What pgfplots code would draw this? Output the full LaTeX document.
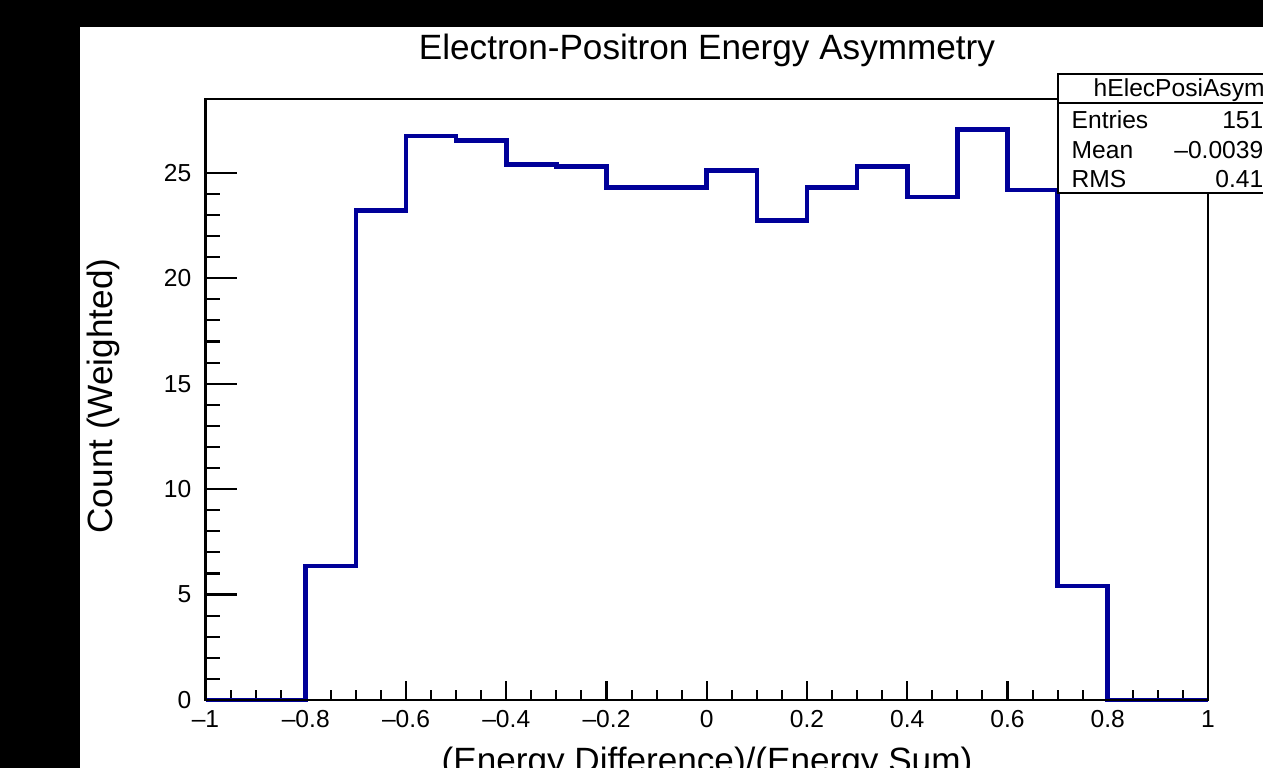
\documentclass[border=0pt]{standalone}
\usepackage{fontspec}
\setmainfont{Liberation Sans}
\usepackage{pgfplots}
\pgfplotsset{compat=1.18}
\definecolor{rootblue}{RGB}{0,0,153}

\begin{document}
\begin{tikzpicture}
\useasboundingbox (0,0) rectangle (126.3mm,76.8mm);
\clip (0,0) rectangle (126.3mm,76.8mm);
\fill[black] (0,0) rectangle (126.3mm,76.8mm);
\fill[white] (8mm,0) rectangle (126.3mm,74.1mm);

% histogram + x ticks
\begin{axis}[
  at={(20.55mm,6.8mm)}, anchor=south west,
  scale only axis, width=100.25mm, height=60.1mm,
  xmin=-1, xmax=1, ymin=0, ymax=28.5,
  xtick={-1,-0.8,-0.6,-0.4,-0.2,0,0.2,0.4,0.6,0.8,1},
  xticklabels={–1,–0.8,–0.6,–0.4,–0.2,0,0.2,0.4,0.6,0.8,1},
  minor x tick num=3,
  ytick=\empty,
  tick pos=left, tick align=inside,
  major tick length=1.9mm, minor tick length=1.0mm,
  every tick/.style={black, line width=0.6pt},
  axis line style={line width=0.6pt},
  xticklabel style={font=\fontsize{7}{8}\selectfont, inner sep=1pt, yshift=-0.6mm},
  clip=false,
]
\addplot[const plot, color=rootblue, line width=1.3pt] coordinates {
  (-1,0) (-0.8,6.36) (-0.7,23.2) (-0.6,26.74) (-0.5,26.52) (-0.4,25.4)
  (-0.3,25.29) (-0.2,24.29) (-0.1,24.29) (0,25.1) (0.1,22.73) (0.2,24.29)
  (0.3,25.29) (0.4,23.86) (0.5,27.06) (0.6,24.19) (0.7,5.41) (0.8,0) (1,0)
};
\end{axis}

% y ticks (longer than the x ones, as in ROOT)
\begin{axis}[
  at={(20.55mm,6.8mm)}, anchor=south west,
  scale only axis, width=100.25mm, height=60.1mm,
  xmin=-1, xmax=1, ymin=0, ymax=28.5,
  xtick=\empty,
  ytick={0,5,10,15,20,25},
  minor y tick num=4,
  tick pos=left, tick align=inside,
  major tick length=3.1mm, minor tick length=1.5mm,
  every tick/.style={black, line width=0.6pt},
  axis line style={line width=0.6pt},
  /pgf/number format/assume math mode=true,
  yticklabel style={font=\fontsize{7}{8}\selectfont, inner sep=1pt, xshift=-1.0mm},
]
\end{axis}

% titles
\node[anchor=base, font=\fontsize{10}{12}\selectfont] at (70.7mm,70.8mm)
  {Electron-Positron Energy Asymmetry};
\node[anchor=base, rotate=90, font=\fontsize{10}{12}\selectfont] at (11.2mm,37.2mm)
  {Count (Weighted)};
\node[anchor=base, font=\fontsize{10}{12}\selectfont] at (70.7mm,-0.5mm)
  {(Energy Difference)/(Energy Sum)};

% stats box (runs past the right edge, as in the screenshot)
\draw[fill=white, line width=0.6pt] (105.8mm,57.5mm) rectangle (135mm,69.4mm);
\draw[line width=0.6pt] (105.8mm,66.5mm) -- (135mm,66.5mm);
\begin{scope}[font=\fontsize{7}{8}\selectfont]
\node[anchor=base west, inner sep=0pt] at (109.3mm,67.1mm) {hElecPosiAsym};
\node[anchor=base west, inner sep=0pt] at (107.1mm,63.9mm) {Entries};
\node[anchor=base west, inner sep=0pt] at (107.1mm,60.9mm) {Mean};
\node[anchor=base west, inner sep=0pt] at (107.1mm,58.0mm) {RMS};
\node[anchor=base east, inner sep=0pt] at (126.4mm,63.9mm) {151};
\node[anchor=base east, inner sep=0pt] at (126.4mm,60.9mm) {–0.0039};
\node[anchor=base east, inner sep=0pt] at (126.4mm,58.0mm) {0.41};
\end{scope}
\end{tikzpicture}
\end{document}
